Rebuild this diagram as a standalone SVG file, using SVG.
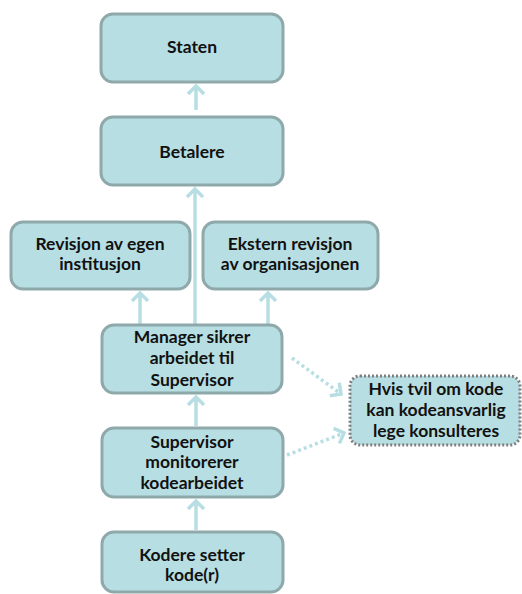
<svg xmlns="http://www.w3.org/2000/svg" width="522" height="594" viewBox="0 0 522 594">
<defs>
<style>
.box{fill:#B7DEE2;stroke:#8FA9AB;stroke-width:3}
.dbox{fill:#B7DEE2;stroke:#7F7F7F;stroke-width:3;stroke-dasharray:2 2}
.t{font-family:Lato,"Liberation Sans",sans-serif;font-weight:bold;font-size:17.5px;fill:#111;text-anchor:middle}
.c{stroke:#B7DEE2;stroke-width:3.5;fill:none}
.d{stroke:#B7DEE2;stroke-width:3.5;fill:none;stroke-dasharray:3 3}
</style>
<marker id="ah" viewBox="0 0 20 20" refX="10" refY="10" markerWidth="20" markerHeight="20" orient="auto" markerUnits="userSpaceOnUse">
<path d="M2,2 L10,10 L2,18" fill="none" stroke="#B7DEE2" stroke-width="3.5"/>
</marker>
</defs>
<g id="connectors">
<line class="c" x1="196" y1="110" x2="196" y2="86" marker-end="url(#ah)"/>
<line class="c" x1="195" y1="325" x2="195" y2="189" marker-end="url(#ah)"/>
<line class="c" x1="140" y1="325" x2="140" y2="293" marker-end="url(#ah)"/>
<line class="c" x1="268" y1="325" x2="268" y2="293" marker-end="url(#ah)"/>
<line class="c" x1="196" y1="426" x2="196" y2="397" marker-end="url(#ah)"/>
<line class="c" x1="196" y1="530" x2="196" y2="501" marker-end="url(#ah)"/>
<line class="d" x1="292" y1="358" x2="341" y2="394" marker-end="url(#ah)"/>
<line class="d" x1="287" y1="455" x2="344" y2="433" marker-end="url(#ah)"/>
</g>
<g id="staten"><rect class="box" x="101" y="14" width="182" height="68" rx="12"/><text class="t" x="192" y="53">Staten</text></g>
<g id="betalere"><rect class="box" x="101" y="117" width="182" height="68" rx="12"/><text class="t" x="192" y="158">Betalere</text></g>
<g id="revisjon"><rect class="box" x="11" y="222" width="179" height="67" rx="12"/><text class="t" x="100" y="250">Revisjon av egen</text><text class="t" x="100" y="270">institusjon</text></g>
<g id="ekstern"><rect class="box" x="203" y="222" width="175" height="67" rx="12"/><text class="t" x="290" y="250">Ekstern revisjon</text><text class="t" x="290" y="270">av organisasjonen</text></g>
<g id="manager"><rect class="box" x="102" y="325" width="180" height="68" rx="12"/><text class="t" x="192" y="343">Manager sikrer</text><text class="t" x="192" y="364">arbeidet til</text><text class="t" x="192" y="386">Supervisor</text></g>
<g id="hvis"><rect class="dbox" x="350" y="376" width="170" height="69" rx="10"/><text class="t" x="436" y="395">Hvis tvil om kode</text><text class="t" x="436" y="416">kan kodeansvarlig</text><text class="t" x="436" y="437">lege konsulteres</text></g>
<g id="supervisor"><rect class="box" x="102" y="428" width="181" height="69" rx="12"/><text class="t" x="192" y="448">Supervisor</text><text class="t" x="192" y="468">monitorerer</text><text class="t" x="192" y="489">kodearbeidet</text></g>
<g id="kodere"><rect class="box" x="102" y="532" width="181" height="60" rx="12"/><text class="t" x="192" y="561">Kodere setter</text><text class="t" x="192" y="581">kode(r)</text></g>
</svg>
